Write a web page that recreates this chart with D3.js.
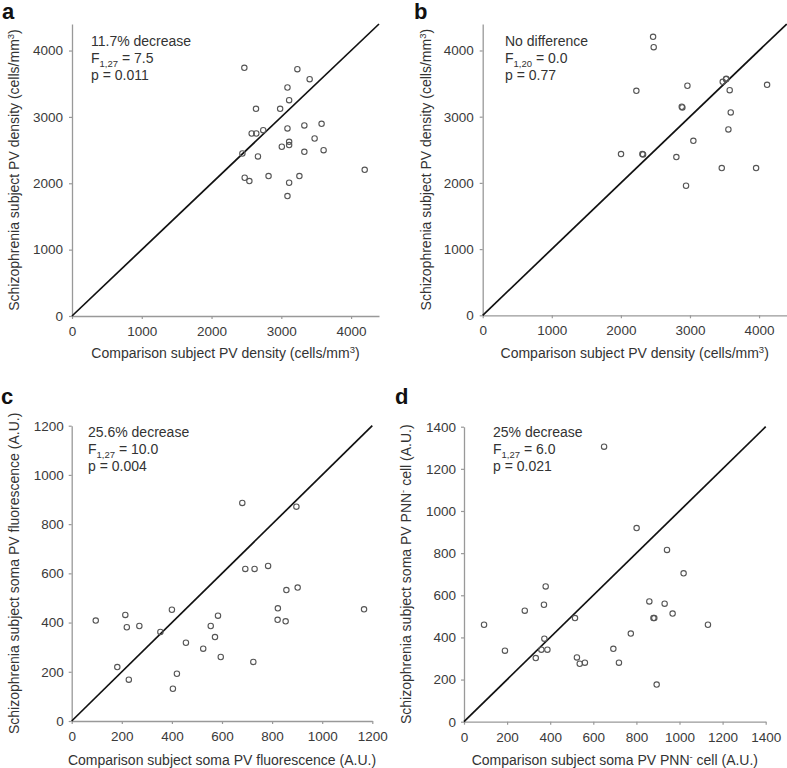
<!DOCTYPE html>
<html><head><meta charset="utf-8">
<script src="https://cdn.jsdelivr.net/npm/d3@7"></script>
<style>
body{margin:0;background:#fff;}
svg{display:block;font-family:Arial,"Liberation Sans",sans-serif;}
</style></head>
<body><svg id="chart" width="787" height="768"></svg>
<script>
// ---- data ----
const aX = [2470,3230,3406,3088,3112,2637,2983,2575,2641,2741,3088,3330,3577,3477,3112,3112,3007,3330,3606,2442,2665,2475,2542,2817,3112,3259,3088,4195];
const aY = [3739,3719,3569,3443,3252,3122,3122,2750,2750,2800,2826,2871,2896,2675,2625,2575,2550,2474,2499,2449,2404,2083,2033,2108,2008,2108,1807,2203];
const bX = [2466,2475,2224,2963,2881,2890,3474,3522,3525,3575,4116,3590,3556,3049,2002,2311,2321,2803,2943,3460,3957];
const bY = [4206,4050,3391,3467,3150,3140,3527,3567,3572,3401,3482,3064,2808,2636,2435,2435,2430,2390,1957,2224,2224];
const cX = [96,214,220,270,182,228,354,400,456,420,404,525,555,584,572,595,681,693,730,784,725,823,822,854,857,902,897,1167];
const cY = [408,431,381,386,219,168,362,452,318,192,131,294,386,428,341,260,886,618,618,630,240,458,411,405,532,542,871,454];
const dX = [93,190,282,379,371,373,359,387,333,515,524,537,561,650,693,719,774,801,860,879,883,942,931,968,1019,894,1132];
const dY = [460,337,527,642,555,394,342,342,302,492,305,275,280,1305,346,280,418,919,571,492,492,815,560,513,704,176,460];

const ticksAB = [0,1000,2000,3000,4000];
const ticksC = [0,200,400,600,800,1000,1200];
const ticksD = [0,200,400,600,800,1000,1200,1400];

const svg = d3.select("#chart");

function supText(sel, parts){
  let cur = 0;
  parts.forEach(([t,m])=>{
    const target = m==='sup' ? -5 : m==='sub' ? 3.5 : 0;
    const ts = sel.append("tspan").attr("dy", target-cur).text(t);
    if(m!=='n') ts.attr("font-size", "9.5px");
    cur = target;
  });
}

function panel(o){
  const g = svg.append("g");
  const x = d3.scaleLinear().domain([0,o.max]).range([o.x0,o.x1]);
  const y = d3.scaleLinear().domain([0,o.max]).range([o.y0,o.y1]);

  const xa = g.append("g").attr("transform",`translate(0,${o.y0})`)
    .call(d3.axisBottom(x).tickValues(o.ticks).tickSize(3).tickSizeOuter(0).tickFormat(d3.format("d")));
  const ya = g.append("g").attr("transform",`translate(${o.x0},0)`)
    .call(d3.axisLeft(y).tickValues(o.ticks).tickSize(3).tickSizeOuter(0).tickFormat(d3.format("d")));
  [xa,ya].forEach(a=>{
    a.select(".domain").attr("stroke","#999").attr("stroke-width",1.3);
    a.selectAll(".tick line").attr("stroke","#999").attr("stroke-width",1.2);
    a.selectAll(".tick text").attr("fill","#3a3a3a").attr("font-size","13.5px").attr("font-family","Arial, 'Liberation Sans', sans-serif");
  });
  xa.selectAll(".tick text").attr("y", o.xlabOff).attr("dy","0");
  ya.selectAll(".tick text").attr("x", -o.ylabOff);

  g.append("line").attr("x1",x(0)).attr("y1",y(0)).attr("x2",x(o.max)).attr("y2",y(o.max))
    .attr("stroke","#111").attr("stroke-width",1.7);

  g.append("g").selectAll("circle").data(o.xs.map((v,i)=>[v,o.ys[i]])).join("circle")
    .attr("cx",d=>x(d[0])).attr("cy",d=>y(d[1])).attr("r",2.7)
    .attr("fill","none").attr("stroke","#555").attr("stroke-width",1.1);

  g.append("text").attr("x",o.lx).attr("y",o.ly).attr("font-size","22px").attr("font-weight","bold")
    .attr("fill","#111").text(o.letter);

  const ann = g.append("g").attr("fill","#333").attr("font-size","14px");
  ann.append("text").attr("x",o.ax).attr("y",o.ay).text(o.ann[0]);
  const f = ann.append("text").attr("x",o.ax).attr("y",o.ay+17);
  supText(f, [["F","n"],[o.ann[1],"sub"],[o.ann[2],"n"]]);
  ann.append("text").attr("x",o.ax).attr("y",o.ay+34).text(o.ann[3]);

  const xt = g.append("text").attr("x",(o.x0+o.x1)/2).attr("y",o.xty).attr("text-anchor","middle")
    .attr("font-size","14px").attr("fill","#333");
  supText(xt, o.xtitle);
  const yt = g.append("text").attr("transform",`translate(${o.ytx},${(o.y0+o.y1)/2}) rotate(-90)`)
    .attr("text-anchor","middle").attr("font-size","14px").attr("fill","#333");
  supText(yt, o.ytitle);
}

panel({letter:"a", lx:2, ly:19, x0:72, x1:379, y0:316, y1:24, max:4400, ticks:ticksAB,
  xs:aX, ys:aY, xlabOff:20, ylabOff:9, ax:91, ay:46,
  ann:["11.7% decrease","1,27","  = 7.5","p = 0.011"],
  xty:358, ytx:19,
  xtitle:[["Comparison subject PV density (cells/mm","n"],["3","sup"],[")","n"]],
  ytitle:[["Schizophrenia subject PV density (cells/mm","n"],["3","sup"],[")","n"]]});

panel({letter:"b", lx:414, ly:19, x0:482.7, x1:786.7, y0:315.3, y1:24, max:4400, ticks:ticksAB,
  xs:bX, ys:bY, xlabOff:20, ylabOff:9, ax:505, ay:46,
  ann:["No difference","1,20"," = 0.0","p = 0.77"],
  xty:358, ytx:431,
  xtitle:[["Comparison subject PV density (cells/mm","n"],["3","sup"],[")","n"]],
  ytitle:[["Schizophrenia subject PV density (cells/mm","n"],["3","sup"],[")","n"]]});

panel({letter:"c", lx:1, ly:404, x0:71.7, x1:372.3, y0:721, y1:425.7, max:1200, ticks:ticksC,
  xs:cX, ys:cY, xlabOff:20, ylabOff:8, ax:88, ay:437,
  ann:["25.6% decrease","1,27"," = 10.0","p = 0.004"],
  xty:765, ytx:19,
  xtitle:[["Comparison subject soma PV fluorescence (A.U.)","n"]],
  ytitle:[["Schizophrenia subject soma PV fluorescence (A.U.)","n"]]});

panel({letter:"d", lx:395, ly:404, x0:464, x1:765.7, y0:721.7, y1:426.7, max:1400, ticks:ticksD,
  xs:dX, ys:dY, xlabOff:20, ylabOff:8, ax:493, ay:437,
  ann:["25% decrease","1,27"," = 6.0","p = 0.021"],
  xty:765, ytx:411,
  xtitle:[["Comparison subject soma PV PNN","n"],["-","sup"],[" cell (A.U.)","n"]],
  ytitle:[["Schizophrenia subject soma PV PNN","n"],["-","sup"],[" cell (A.U.)","n"]]});
</script></body></html>
